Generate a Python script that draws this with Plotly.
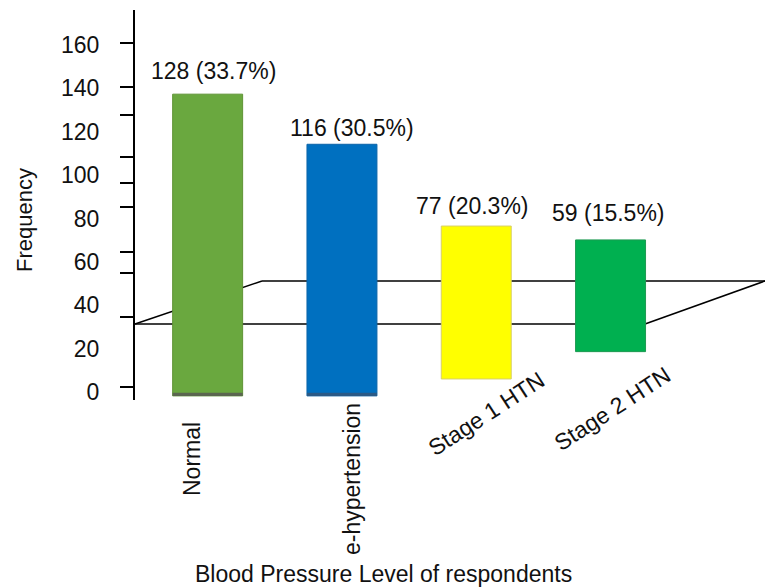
import plotly.graph_objects as go

# ---------------- data ----------------
categories = ["Normal", "e-hypertension", "Stage 1 HTN", "Stage 2 HTN"]
counts = [128, 116, 77, 59]
percents = [33.7, 30.5, 20.3, 15.5]
# drawn bar extents in axis units, as they appear in the picture
bar_top = [137.3, 114.2, 76.5, 70.1]
bar_base = [-1.8, -1.8, 6.0, 18.6]
bar_colors = ["#6aa83f", "#0070c0", "#ffff00", "#00b050"]
# labelled axis ticks and (offset) tick marks on the axis line
ytick_labels = [0, 20, 40, 60, 80, 100, 120, 140, 160]
ytick_marks = [2.3, 34.6, 54.9, 64.6, 85.3, 96.4, 108.4, 127.7, 140.6, 160.9]

# ---------------- layout helpers (pixels -> paper) ----------------
W, H = 765, 588
L, R, T, B = 135, 0, 10, 188
PW, PH = W - L - R, H - T - B


def px(x):
    return (x - L) / PW


def py(y):
    return (T + PH - y) / PH


FONT = "Liberation Sans, Arial, sans-serif"
FS = 23
YR = [-3.7, 176.1]
XR = [-0.541, 4.150]
BW = 0.521

heights = [t - b for t, b in zip(bar_top, bar_base)]

fig = go.Figure()
fig.add_trace(go.Bar(
    x=categories, y=heights, base=bar_base, width=BW,
    marker=dict(color=bar_colors,
                line=dict(color=["#5f9435", "#0b64a8", "#d8cf6a", "#1d9a52"], width=1)),
    hoverinfo="skip", showlegend=False,
))
# dummy trace for the tick-mark axis
fig.add_trace(go.Scatter(x=[categories[0]], y=[0], yaxis="y2", mode="markers",
                         marker=dict(opacity=0), hoverinfo="skip", showlegend=False))

shapes = []
# floor parallelogram (behind the bars)
floor = [((135, 324), (262, 281)), ((262, 281), (765, 281)),
         ((135, 324), (645, 324)), ((645, 324), (765, 281))]
for (x0, y0), (x1, y1) in floor:
    shapes.append(dict(type="line", xref="paper", yref="paper",
                       x0=px(x0), y0=py(y0), x1=px(x1), y1=py(y1),
                       line=dict(color="black", width=1.5), layer="below"))
# darker bottom edge of the first two bars
edge_cols = ["#5b6650", "#2b5a86"]
for i in range(2):
    shapes.append(dict(type="rect", xref="x", yref="y",
                       x0=i - BW / 2, x1=i + BW / 2,
                       y0=bar_base[i], y1=bar_base[i] + 1.5,
                       fillcolor=edge_cols[i], line=dict(width=0), layer="above"))

annotations = []
# value labels
dx = [6, 10, -4, -2]
dy = [23, 16, 20, 27]
for i, c in enumerate(categories):
    annotations.append(dict(
        x=i, y=bar_top[i], xref="x", yref="y",
        text=f"{counts[i]} ({percents[i]:.1f}%)", showarrow=False,
        xanchor="center", yanchor="middle", xshift=dx[i], yshift=dy[i],
        font=dict(family=FONT, size=FS, color="#111111")))
# category labels
cat_pos = [(192, 459, -90), (352, 479, -90), (486, 414, -33), (612, 409, -33)]
for c, (x, y, a) in zip(categories, cat_pos):
    annotations.append(dict(
        x=px(x), y=py(y), xref="paper", yref="paper", text=c, showarrow=False,
        textangle=a, xanchor="center", yanchor="middle",
        font=dict(family=FONT, size=FS, color="#111111")))
# axis titles
annotations.append(dict(x=px(24), y=py(220), xref="paper", yref="paper",
                        text="Frequency", showarrow=False, textangle=-90,
                        xanchor="center", yanchor="middle",
                        font=dict(family=FONT, size=22, color="#111111")))
annotations.append(dict(x=px(383), y=py(574), xref="paper", yref="paper",
                        text="Blood Pressure Level of respondents", showarrow=False,
                        xanchor="center", yanchor="middle",
                        font=dict(family=FONT, size=FS, color="#111111")))

fig.update_layout(
    width=W, height=H,
    margin=dict(l=L, r=R, t=T, b=B, pad=0),
    paper_bgcolor="white", plot_bgcolor="white",
    barmode="overlay", showlegend=False,
    xaxis=dict(type="category", range=XR, visible=False, fixedrange=True),
    yaxis=dict(range=YR, tickvals=ytick_labels, ticks="outside", ticklen=30,
               tickcolor="rgba(0,0,0,0)", showline=False, showgrid=False,
               zeroline=False, tickfont=dict(family=FONT, size=FS, color="#111111")),
    yaxis2=dict(range=YR, overlaying="y", side="left", anchor="x",
                tickvals=ytick_marks, ticks="outside", ticklen=13, tickwidth=2,
                tickcolor="black", showticklabels=False, showline=True,
                linecolor="black", linewidth=2, showgrid=False, zeroline=False),
    shapes=shapes, annotations=annotations,
)

fig.write_html("out.html", config={"displayModeBar": False},
               post_script="document.body.style.margin='0px';document.body.style.overflow='hidden';")
